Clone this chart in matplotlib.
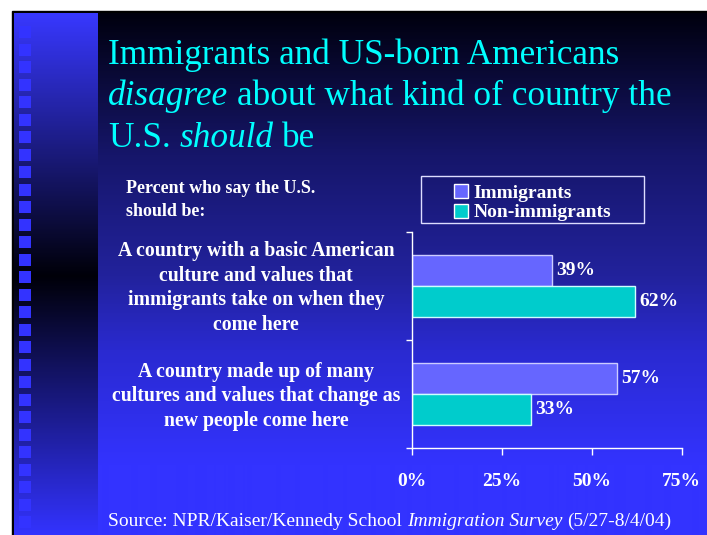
import matplotlib.pyplot as plt
from matplotlib.patches import Rectangle
from matplotlib.transforms import blended_transform_factory
import numpy as np

# data
categories = ["A country with a basic American\nculture and values that\nimmigrants take on when they\ncome here",
              "A country made up of many\ncultures and values that change as\nnew people come here"]
series_names = ["Immigrants", "Non-immigrants"]
immigrants = [39, 57]
non_immigrants = [62, 33]
xticks = [0, 25, 50, 75]
xtick_labels = ["0%", "25%", "50%", "75%"]

W, H = 707, 535
SERIF = 'Liberation Serif'
fig = plt.figure(figsize=(W / 100, H / 100), dpi=100, facecolor='white')

# background axes in pixel coordinates
bg = fig.add_axes([0, 0, 1, 1])
bg.set_xlim(0, W)
bg.set_ylim(H, 0)
bg.axis('off')
bg.add_patch(Rectangle((12, 11), W - 12, H - 11, color='black', zorder=0))


def vgrad(y0, y1, stops, cols):
    ys = np.arange(y0, y1) + 0.5
    cols = np.array(cols) / 255.0
    img = np.stack([np.interp(ys, stops, cols[:, k]) for k in range(3)], axis=-1)
    return img[:, None, :]


# main area: black at top to blue at bottom
main = vgrad(13, H, [13, 155, 276, 350, 465],
             [(0, 0, 14), (22, 22, 106), (34, 34, 156), (42, 42, 208), (51, 51, 255)])
bg.imshow(main, extent=(98, W, H, 13), aspect='auto', interpolation='bilinear', zorder=1)
# left strip: bright - black - bright
strip = vgrad(13, H, [13, 276, H], [(56, 56, 255), (0, 0, 8), (51, 51, 255)])
bg.imshow(strip, extent=(14, 98, H, 13), aspect='auto', interpolation='bilinear', zorder=1)
for k in range(29):
    bg.add_patch(Rectangle((19, 26 + 17.5 * k), 12, 12, color='#3333ff', lw=0, zorder=2))
bg.set_xlim(0, W)
bg.set_ylim(H, 0)

renderer = fig.canvas.get_renderer()


def rich_line(x, y, pieces, size, color):
    gap = size * 0.25 * 100 / 72
    for s, st in pieces:
        t = bg.text(x, y, s, fontsize=size, color=color, family=SERIF, style=st,
                    va='baseline', ha='left', zorder=5)
        x += t.get_window_extent(renderer=renderer).width + gap


title_col = '#00ffff'
rich_line(108, 64, [("Immigrants and US-born Americans", 'normal')], 25.4, title_col)
rich_line(108, 105, [("disagree", 'italic'), ("about what kind of country the", 'normal')], 25.4, title_col)
rich_line(108, 147, [("U.S.", 'normal'), ("should", 'italic'), ("be", 'normal')], 25.4, title_col)

rich_line(108, 526, [("Source: NPR/Kaiser/Kennedy School", 'normal'),
                     ("Immigration Survey", 'italic'), ("(5/27-8/4/04)", 'normal')], 14, 'white')

bg.text(126, 200, "Percent who say the U.S.\nshould be:", fontsize=13, color='white',
        family=SERIF, weight='bold', va='center', ha='left', linespacing=1.4)

# chart axes
ax = fig.add_axes([412.3 / W, (H - 448) / H, 269.4 / W, 216 / H])
ax.patch.set_visible(False)
y = np.arange(len(categories))
b1 = ax.barh(y - 0.145, immigrants, height=0.29, color='#6666ff', edgecolor='#ccccff',
             linewidth=1, label=series_names[0])
b2 = ax.barh(y + 0.145, non_immigrants, height=0.29, color='#00cccc', edgecolor='#ccffff',
             linewidth=1, label=series_names[1])
lab_font = dict(family=SERIF, weight='bold', size=14)
for b in (b1, b2):
    for t in ax.bar_label(b, fmt='%d%%', padding=3, color='white'):
        t.set_fontproperties(lab_font)

ax.set_xlim(0, 75)
ax.set_ylim(1.5, -0.5)
for side in ('top', 'right'):
    ax.spines[side].set_visible(False)
for side in ('left', 'bottom'):
    ax.spines[side].set_color('white')
    ax.spines[side].set_linewidth(1)
ax.set_xticks(xticks, xtick_labels)
ax.set_yticks([-0.5, 0.5, 1.5], ['', '', ''])
ax.tick_params(axis='x', colors='white', length=5, width=1, pad=13)
ax.tick_params(axis='y', colors='white', length=4.5, width=1)
for t in ax.get_xticklabels():
    t.set_fontproperties(lab_font)

tr = blended_transform_factory(bg.transData, ax.transData)
for i, c in enumerate(categories):
    ax.text(256, y[i] + 0.02, c, transform=tr, ha='center', va='center', color='white',
            family=SERIF, weight='bold', fontsize=14.2, linespacing=1.31)

# legend
bg.add_patch(Rectangle((420.7, 175.7), 223.3, 47.6, fill=False, edgecolor='#ddddff', lw=1, zorder=5))
leg = fig.legend([b1, b2], series_names, loc='upper left', bbox_to_anchor=(454 / W, 1 - 184 / H),
                 frameon=False, borderpad=0, borderaxespad=0, handlelength=0.72, handleheight=0.72,
                 handletextpad=0.28, labelspacing=0.1, prop=dict(family=SERIF, weight='bold', size=14))
for t in leg.get_texts():
    t.set_color('white')
for p in leg.legend_handles:
    p.set_edgecolor('white')

fig.savefig('out.png', dpi=100, facecolor='white')
